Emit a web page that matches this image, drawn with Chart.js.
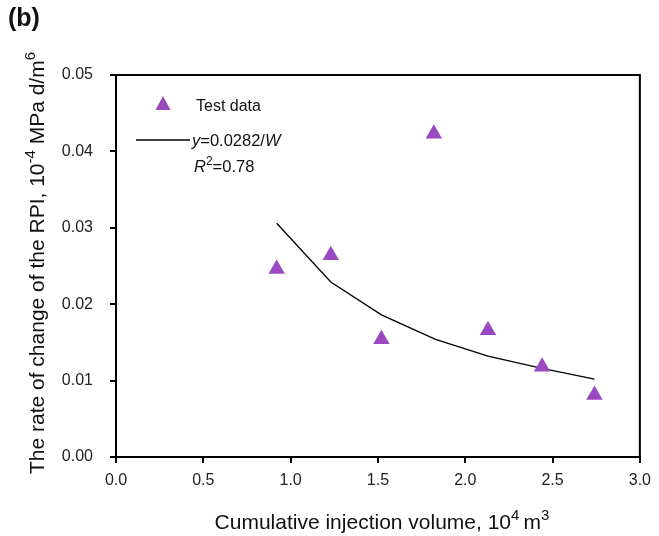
<!DOCTYPE html>
<html>
<head>
<meta charset="utf-8">
<script src="https://cdn.jsdelivr.net/npm/chart.js@4/dist/chart.umd.min.js"></script>
<style>
  html, body { margin: 0; padding: 0; background: #fff; }
  #wrap { width: 659px; height: 536px; position: relative; }
</style>
</head>
<body>
<div id="wrap"><canvas id="chart"></canvas></div>
<script>
// measured data (W in 10^4 m3, rate in 10^-4 MPa d/m6)
const testX = [0.92, 1.23, 1.52, 1.82, 2.13, 2.44, 2.74];
const testY = [0.0246, 0.0264, 0.0154, 0.0423, 0.0166, 0.0118, 0.0081];
// fitted curve y = 0.0282/W
const fitX = [0.92, 1.23, 1.52, 1.83, 2.13, 2.44, 2.74];
const fitY = [0.0306, 0.0229, 0.0186, 0.0154, 0.0132, 0.0116, 0.0102];

const xTicks = [0, 0.5, 1.0, 1.5, 2.0, 2.5, 3.0];
const yTicks = [0, 0.01, 0.02, 0.03, 0.04, 0.05];

const purple = '#9a49c0';
const FONT = '"Liberation Sans", Arial, sans-serif';

function pts(xs, ys) {
  return xs.map((x, i) => ({ x: x, y: ys[i] }));
}

// text with superscripts: parts = [[text, 'n'|'i'|'s'|'si'], ...]
function richText(ctx, parts, x, y, size) {
  let cx = x;
  parts.forEach(p => {
    const sup = p[1].indexOf('s') >= 0;
    const ital = p[1].indexOf('i') >= 0;
    const sz = sup ? Math.round(size * 0.72) : size;
    ctx.font = (ital ? 'italic ' : '') + sz + 'px ' + FONT;
    ctx.fillText(p[0], cx, sup ? y - size * 0.42 : y);
    cx += ctx.measureText(p[0]).width;
  });
  return cx - x;
}
function richWidth(ctx, parts, size) {
  let w = 0;
  parts.forEach(p => {
    const sup = p[1].indexOf('s') >= 0;
    const ital = p[1].indexOf('i') >= 0;
    const sz = sup ? Math.round(size * 0.72) : size;
    ctx.font = (ital ? 'italic ' : '') + sz + 'px ' + FONT;
    w += ctx.measureText(p[0]).width;
  });
  return w;
}

const extras = {
  id: 'extras',
  afterDraw(chart) {
    const ctx = chart.ctx;
    const a = chart.chartArea;
    ctx.save();
    // box top + right
    ctx.strokeStyle = '#000';
    ctx.lineWidth = 2;
    ctx.beginPath();
    ctx.moveTo(a.left, a.top);
    ctx.lineTo(a.right, a.top);
    ctx.lineTo(a.right, a.bottom);
    ctx.stroke();

    ctx.fillStyle = '#111';
    ctx.textBaseline = 'alphabetic';
    ctx.textAlign = 'left';

    // panel letter
    ctx.font = 'bold 25px ' + FONT;
    ctx.fillText('(b)', 8, 26);

    // legend
    ctx.fillStyle = purple;
    ctx.beginPath();
    ctx.moveTo(163, 96);
    ctx.lineTo(170.5, 110);
    ctx.lineTo(155.5, 110);
    ctx.closePath();
    ctx.fill();
    ctx.fillStyle = '#111';
    ctx.font = '16px ' + FONT;
    ctx.fillText('Test data', 196, 111);

    ctx.strokeStyle = '#000';
    ctx.lineWidth = 1.3;
    ctx.beginPath();
    ctx.moveTo(136, 140);
    ctx.lineTo(190, 140);
    ctx.stroke();
    richText(ctx, [['y', 'i'], ['=0.0282/', 'n'], ['W', 'i']], 192, 146, 16.5);
    richText(ctx, [['R', 'i'], ['2', 's'], ['=0.78', 'n']], 194, 172, 16.5);

    // x axis title
    const xt = [['Cumulative injection volume, 10', 'n'], ['4', 's'], ['\u2009m', 'n'], ['3', 's']];
    const xw = richWidth(ctx, xt, 21);
    richText(ctx, xt, 382 - xw / 2, 529, 21);

    // y axis title
    const yt = [['The rate of change of the RPI, 10', 'n'], ['-4', 's'], [' MPa d/m', 'n'], ['6', 's']];
    const yw = richWidth(ctx, yt, 21);
    ctx.translate(44, 263);
    ctx.rotate(-Math.PI / 2);
    richText(ctx, yt, -yw / 2, 0, 21);
    ctx.restore();
  }
};

new Chart(document.getElementById('chart'), {
  type: 'scatter',
  data: {
    datasets: [
      {
        label: 'y=0.0282/W',
        data: pts(fitX, fitY),
        showLine: true,
        borderColor: '#000',
        borderWidth: 1.3,
        pointRadius: 0,
        fill: false,
        order: 2
      },
      {
        label: 'Test data',
        data: pts(testX, testY),
        pointStyle: 'triangle',
        pointRadius: 9.5,
        backgroundColor: purple,
        borderColor: purple,
        borderWidth: 0,
        order: 1
      }
    ]
  },
  options: {
    responsive: true,
    maintainAspectRatio: false,
    animation: false,
    layout: { padding: { left: 0, top: 75, right: 19, bottom: 0 } },
    plugins: {
      legend: { display: false },
      tooltip: { enabled: false }
    },
    scales: {
      x: {
        type: 'linear',
        min: 0, max: 3,
        afterBuildTicks: s => { s.ticks = xTicks.map(v => ({ value: v })); },
        afterFit: s => { s.height = 79; },
        ticks: {
          color: '#222',
          font: { family: FONT, size: 16 },
          padding: 8,
          maxRotation: 0,
          callback: v => v.toFixed(1)
        },
        grid: { drawOnChartArea: false, tickLength: 6, color: '#000', lineWidth: 2 },
        border: { display: true, color: '#000', width: 2 },
        title: { display: false }
      },
      y: {
        type: 'linear',
        min: 0, max: 0.05,
        afterBuildTicks: s => { s.ticks = yTicks.map(v => ({ value: v })); },
        afterFit: s => { s.width = 116; },
        ticks: {
          color: '#222',
          font: { family: FONT, size: 16 },
          padding: 17,
          callback: v => v.toFixed(2)
        },
        grid: { drawOnChartArea: false, tickLength: 6, color: '#000', lineWidth: 2 },
        border: { display: true, color: '#000', width: 2 },
        title: { display: false }
      }
    }
  },
  plugins: [extras]
});
</script>
</body>
</html>
